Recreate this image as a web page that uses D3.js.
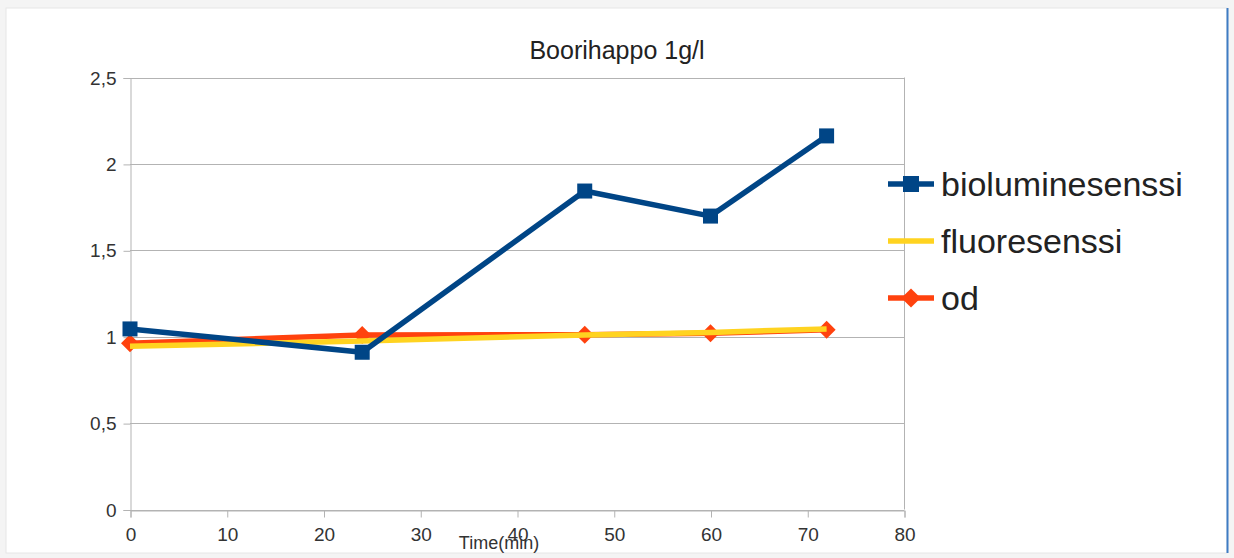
<!DOCTYPE html>
<html>
<head>
<meta charset="utf-8">
<script src="https://cdn.jsdelivr.net/npm/d3@7"></script>
<style>
  html, body { margin: 0; padding: 0; background: #f4f4f4; }
  svg { display: block; font-family: "Liberation Sans", Arial, sans-serif; }
</style>
</head>
<body>
<svg id="chart" width="1234" height="558"></svg>
<script>
// Sampling times (min)
const times = [0, 24, 47, 60, 72];
// Series values
const bioluminesenssi = [1.045, 0.91, 1.843, 1.698, 2.162];
const fluoresenssi = [0.945, 0.975, 1.01, 1.025, 1.045];
const od = [0.962, 1.01, 1.012, 1.02, 1.04];
const seriesNames = ["bioluminesenssi", "fluoresenssi", "od"];
const xTicks = [0, 10, 20, 30, 40, 50, 60, 70, 80];
const yTicks = [0, 0.5, 1, 1.5, 2, 2.5];

const colors = { bioluminesenssi: "#004586", fluoresenssi: "#ffd320", od: "#ff420e" };

const svg = d3.select("#chart");

// sheet background
svg.append("rect").attr("x", 6).attr("y", 8).attr("width", 1221).attr("height", 545)
  .attr("fill", "#ffffff").attr("stroke", "#e6e6e6");
svg.append("line").attr("x1", 1227.5).attr("x2", 1227.5).attr("y1", 8).attr("y2", 553)
  .attr("stroke", "#3f7cc4").attr("stroke-width", 2);

const x = d3.scaleLinear().domain([0, 80]).range([130, 904]);
const y = d3.scaleLinear().domain([0, 2.5]).range([509.5, 77.5]);

const fmt = v => String(v).replace(".", ",");

// horizontal gridlines
svg.append("g").selectAll("line").data(yTicks).join("line")
  .attr("x1", x(0)).attr("x2", x(80))
  .attr("y1", d => Math.round(y(d)) + 0.5).attr("y2", d => Math.round(y(d)) + 0.5)
  .attr("stroke", "#b3b3b3").attr("stroke-width", 1);

// right border of plot area
svg.append("line").attr("x1", x(80) + 0.5).attr("x2", x(80) + 0.5)
  .attr("y1", y(2.5)).attr("y2", y(0)).attr("stroke", "#b3b3b3");

// y axis
const yAxis = d3.axisLeft(y).tickValues(yTicks).tickFormat(fmt).tickSize(7).tickPadding(7);
const gy = svg.append("g").attr("transform", `translate(${x(0) + 0.5},0.5)`).call(yAxis);
gy.select(".domain").attr("stroke", "#b3b3b3");
gy.selectAll(".tick line").attr("stroke", "#b3b3b3");
gy.selectAll(".tick text").attr("font-size", 19).attr("fill", "#333")
  .attr("font-family", "Liberation Sans, Arial, sans-serif");

// x axis
const xAxis = d3.axisBottom(x).tickValues(xTicks).tickFormat(fmt).tickSize(7).tickPadding(10);
const gx = svg.append("g").attr("transform", `translate(0.5,${Math.round(y(0)) + 0.5})`).call(xAxis);
gx.select(".domain").attr("stroke", "#b3b3b3");
gx.selectAll(".tick line").attr("stroke", "#b3b3b3");
gx.selectAll(".tick text").attr("font-size", 19).attr("fill", "#333")
  .attr("font-family", "Liberation Sans, Arial, sans-serif");

// axis title
svg.append("text").attr("x", 499).attr("y", 549).attr("text-anchor", "middle")
  .attr("font-size", 18).attr("fill", "#333").text("Time(min)");

// chart title
svg.append("text").attr("x", 617).attr("y", 59).attr("text-anchor", "middle")
  .attr("font-size", 25).attr("fill", "#222").text("Boorihappo 1g/l");

const data = {
  bioluminesenssi: times.map((t, i) => [t, bioluminesenssi[i]]),
  fluoresenssi: times.map((t, i) => [t, fluoresenssi[i]]),
  od: times.map((t, i) => [t, od[i]])
};

const line = d3.line().x(d => x(d[0])).y(d => y(d[1]));

function marker(g, name, cx, cy, size) {
  if (name === "bioluminesenssi") {
    g.append("rect").attr("x", cx - size / 2).attr("y", cy - size / 2)
      .attr("width", size).attr("height", size).attr("fill", colors[name]);
  } else if (name === "od") {
    const s = size * 0.6;
    g.append("path").attr("d", `M${cx},${cy - s}L${cx + s},${cy}L${cx},${cy + s}L${cx - s},${cy}Z`)
      .attr("fill", colors[name]);
  }
}

// draw od first, then fluoresenssi, bioluminesenssi on top
["od", "fluoresenssi", "bioluminesenssi"].forEach(name => {
  const g = svg.append("g");
  g.append("path").datum(data[name]).attr("d", line)
    .attr("fill", "none").attr("stroke", colors[name]).attr("stroke-width", 5.5)
    .attr("stroke-linejoin", "round");
  data[name].forEach(d => marker(g, name, x(d[0]), y(d[1]), 15));
});

// legend
const legendY = [184, 241, 298];
seriesNames.forEach((name, i) => {
  const g = svg.append("g");
  const ly = legendY[i];
  g.append("line").attr("x1", 888).attr("x2", 934).attr("y1", ly).attr("y2", ly)
    .attr("stroke", colors[name]).attr("stroke-width", 5.5);
  marker(g, name, 911, ly, 16);
  g.append("text").attr("x", 941).attr("y", ly + 12).attr("font-size", 34)
    .attr("fill", "#222").text(name);
});
</script>
</body>
</html>
